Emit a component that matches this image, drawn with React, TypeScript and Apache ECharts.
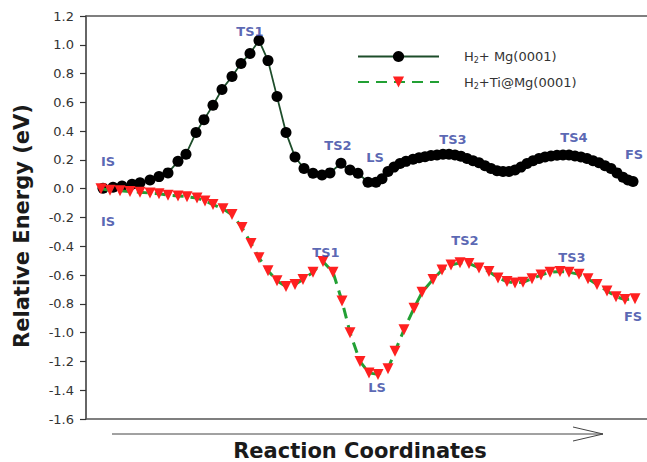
import React, { useEffect, useRef } from "react";
import * as echarts from "echarts";

// Reaction coordinate (arbitrary units) and relative energy (eV)
const mgX = [1.7, 2.7, 3.6, 4.6, 5.4, 6.4, 7.3, 8.2, 9.2, 10.0, 11.0, 11.8, 12.7, 13.6, 14.6, 15.5, 16.4, 17.3, 18.2, 19.1, 20.0, 20.9, 21.8, 22.7, 23.6, 24.4, 25.5, 26.4, 27.2, 28.2, 29.0, 29.6, 30.2, 30.8, 31.4, 32.0, 32.7, 33.3, 33.9, 34.5, 35.1, 35.7, 36.3, 36.9, 37.5, 38.1, 38.7, 39.3, 39.9, 40.5, 41.1, 41.7, 42.3, 42.9, 43.5, 44.1, 44.7, 45.3, 45.9, 46.5, 47.1, 47.7, 48.3, 48.9, 49.5, 50.1, 50.7, 51.3, 51.9, 52.5, 53.1, 53.7, 54.2, 54.7];
const mgE = [0.003, 0.01, 0.019, 0.031, 0.042, 0.06, 0.084, 0.11, 0.19, 0.24, 0.39, 0.48, 0.58, 0.69, 0.78, 0.87, 0.94, 1.03, 0.89, 0.64, 0.39, 0.22, 0.14, 0.108, 0.096, 0.11, 0.177, 0.13, 0.108, 0.045, 0.045, 0.07, 0.12, 0.15, 0.175, 0.19, 0.205, 0.215, 0.222, 0.23, 0.235, 0.24, 0.24, 0.235, 0.225, 0.21, 0.195, 0.18, 0.16, 0.14, 0.125, 0.12, 0.12, 0.13, 0.15, 0.175, 0.195, 0.21, 0.22, 0.228, 0.232, 0.235, 0.235, 0.228, 0.22, 0.21, 0.195, 0.18, 0.16, 0.14, 0.11, 0.08, 0.06, 0.05];

const tiX = [1.5, 2.4, 3.4, 4.4, 5.4, 6.4, 7.3, 8.2, 9.2, 10.1, 11.1, 11.9, 12.7, 13.7, 14.6, 15.6, 16.5, 17.3, 18.2, 19.1, 20.0, 20.9, 21.7, 22.7, 23.7, 24.7, 25.6, 26.4, 27.4, 28.3, 29.2, 30.2, 30.9, 31.8, 32.8, 33.6, 34.7, 35.6, 36.5, 37.4, 38.3, 39.3, 40.3, 41.2, 42.1, 42.9, 43.7, 44.6, 45.5, 46.4, 47.4, 48.3, 49.3, 50.2, 51.1, 52.1, 53.0, 53.9, 54.9];
const tiE = [0.0, -0.01, -0.015, -0.02, -0.025, -0.03, -0.035, -0.045, -0.05, -0.055, -0.065, -0.085, -0.11, -0.14, -0.18, -0.27, -0.38, -0.48, -0.57, -0.64, -0.68, -0.665, -0.63, -0.58, -0.505, -0.58, -0.78, -1.0, -1.2, -1.28, -1.29, -1.25, -1.13, -0.98, -0.83, -0.72, -0.63, -0.565, -0.53, -0.515, -0.52, -0.55, -0.575, -0.62, -0.645, -0.655, -0.65, -0.625, -0.6, -0.58, -0.575, -0.58, -0.595, -0.625, -0.665, -0.71, -0.75, -0.77, -0.765];

const mgLabels = ["IS", "TS1", "TS2", "LS", "TS3", "TS4", "FS"];
const mgLabelX = [2.2, 16.4, 25.2, 28.9, 36.7, 48.8, 54.8];
const mgLabelE = [0.186, 1.09, 0.297, 0.22, 0.34, 0.353, 0.235];

const tiLabels = ["IS", "TS1", "LS", "TS2", "TS3", "FS"];
const tiLabelX = [2.2, 24.0, 29.1, 37.9, 48.6, 54.7];
const tiLabelE = [-0.23, -0.446, -1.383, -0.362, -0.48, -0.89];

const seriesNames = ["H2+ Mg(0001)", "H2+Ti@Mg(0001)"];

const Y_MIN = -1.6;
const Y_MAX = 1.2;
const Y_STEP = 0.2;
const X_MIN = 0;
const X_MAX = 56.1;

export default function App() {
  const ref = useRef<HTMLDivElement>(null);
  useEffect(() => {
    if (!ref.current) return;
    const chart = echarts.init(ref.current, null, { renderer: "svg" });
    const labelData = [
      ...mgLabels.map((t, i) => [mgLabelX[i], mgLabelE[i], t]),
      ...tiLabels.map((t, i) => [tiLabelX[i], tiLabelE[i], t]),
    ];
    chart.setOption({
      animation: false,
      backgroundColor: "#ffffff",
      grid: { left: 86, right: 0, top: 16, bottom: 43, containLabel: false },
      legend: {
        data: seriesNames,
        orient: "vertical",
        left: 352,
        top: 45,
        itemWidth: 81,
        itemHeight: 14,
        itemGap: 11,
        formatter: (name: string) => name.replace("H2", "H{sub|2}"),
        textStyle: {
          fontFamily: "DejaVu Sans",
          fontSize: 13,
          color: "#333333",
          padding: [0, 0, 0, 20],
          rich: {
            sub: { fontFamily: "DejaVu Sans", fontSize: 8, color: "#333333", verticalAlign: "bottom", padding: [8, 0, 0, 0] },
          },
        },
      },
      xAxis: [
        {
          type: "value",
          min: X_MIN,
          max: X_MAX,
          position: "bottom",
          axisLine: { show: true, onZero: false, lineStyle: { color: "#555555", width: 1.5 } },
          axisTick: { show: false },
          axisLabel: { show: false },
          splitLine: { show: false },
        },
        {
          type: "value",
          min: X_MIN,
          max: X_MAX,
          position: "top",
          axisLine: { show: true, onZero: false, lineStyle: { color: "#555555", width: 1.5 } },
          axisTick: { show: false },
          axisLabel: { show: false },
          splitLine: { show: false },
        },
      ],
      yAxis: {
        type: "value",
        min: Y_MIN,
        max: Y_MAX,
        interval: Y_STEP,
        axisLine: { show: true, lineStyle: { color: "#333333", width: 1.5 } },
        axisTick: { show: true, inside: false, length: 6, lineStyle: { color: "#333333", width: 1.2 } },
        axisLabel: {
          margin: 12,
          color: "#333333",
          fontFamily: "DejaVu Sans",
          fontSize: 13,
          formatter: (v: number) => v.toFixed(1),
        },
        splitLine: { show: false },
      },
      series: [
        {
          name: seriesNames[0],
          type: "line",
          data: mgX.map((x, i) => [x, mgE[i]]),
          symbol: "circle",
          symbolSize: 11,
          itemStyle: { color: "#000000" },
          lineStyle: { color: "#1d4d2a", width: 1.8 },
          z: 3,
        },
        {
          name: seriesNames[1],
          type: "line",
          data: tiX.map((x, i) => [x, tiE[i]]),
          symbol: "triangle",
          symbolRotate: 180,
          symbolSize: 11,
          itemStyle: { color: "#ff2020" },
          lineStyle: { color: "#22a034", width: 3, type: [11, 7] },
          z: 4,
        },
        {
          name: "labels",
          type: "scatter",
          data: labelData,
          symbolSize: 0,
          silent: true,
          z: 5,
          label: {
            show: true,
            position: "inside",
            formatter: (p: any) => p.data[2],
            color: "#2f40a0",
            fontFamily: "DejaVu Sans",
            fontWeight: "bold",
            fontSize: 13,
          },
        },
      ],
      graphic: [
        {
          type: "text",
          x: 22,
          y: 226,
          rotation: Math.PI / 2,
          style: {
            text: "Relative Energy (eV)",
            font: "bold 21px 'DejaVu Sans'",
            fill: "#1a1a1a",
            textAlign: "center",
            textVerticalAlign: "middle",
          },
        },
        {
          type: "text",
          x: 360,
          y: 451,
          style: {
            text: "Reaction Coordinates",
            font: "bold 21px 'DejaVu Sans'",
            lineHeight: 21,
            fill: "#1a1a1a",
            textAlign: "center",
            textVerticalAlign: "middle",
          },
        },
        {
          type: "line",
          shape: { x1: 112, y1: 434, x2: 603, y2: 434 },
          style: { stroke: "#444444", lineWidth: 1 },
        },
        {
          type: "polyline",
          shape: { points: [[573, 427], [603, 434], [573, 441]] },
          style: { stroke: "#444444", lineWidth: 1, fill: null },
        },
      ],
    });
    return () => chart.dispose();
  }, []);
  return <div ref={ref} style={{ width: 647, height: 462, position: "absolute", left: 0, top: 0 }} />;
}
